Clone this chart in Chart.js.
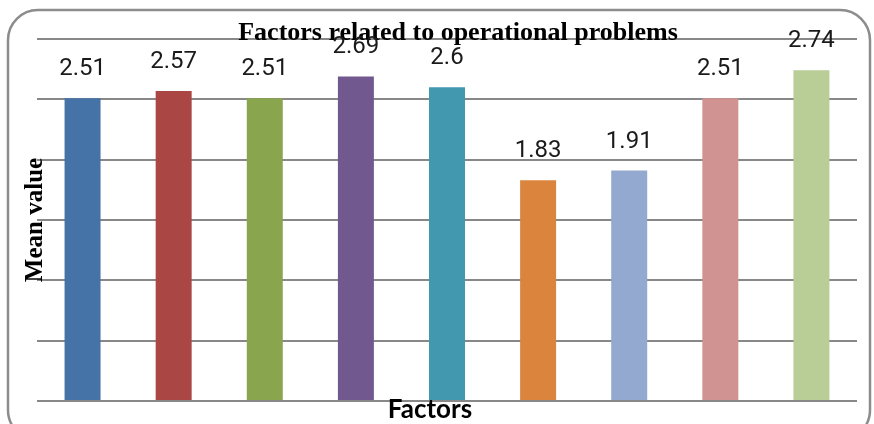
<!DOCTYPE html>
<html>
<head>
<meta charset="utf-8">
<script src="https://cdn.jsdelivr.net/npm/chart.js@4"></script>
<style>
  html, body { margin: 0; padding: 0; background: #fff; }
  #wrap { width: 874px; height: 424px; }
</style>
</head>
<body>
<div id="wrap"><canvas id="factorsChart" width="874" height="424"></canvas></div>
<script>
// factor categories (not labelled on the axis in the original)
var factors = ['F1', 'F2', 'F3', 'F4', 'F5', 'F6', 'F7', 'F8', 'F9'];
var meanValues = [2.51, 2.57, 2.51, 2.69, 2.6, 1.83, 1.91, 2.51, 2.74];
var valueLabels = ['2.51', '2.57', '2.51', '2.69', '2.6', '1.83', '1.91', '2.51', '2.74'];
var barColors = ['#4572A7', '#AA4643', '#89A54E', '#71588F', '#4198AF', '#DB843D', '#93A9CF', '#D19392', '#B9CD96'];

var chartTitle = 'Factors related to operational problems';
var yTitle = 'Mean value';
var xTitle = 'Factors';

// frame, titles and value labels
var decorations = {
  id: 'decorations',
  beforeDraw: function(chart) {
    var c = chart.ctx;
    c.save();
    c.strokeStyle = '#8c8c8c';
    c.lineWidth = 2.5;
    c.beginPath();
    c.roundRect(8, 10, 862, 430, 30);
    c.stroke();
    c.restore();
  },
  afterDraw: function(chart) {
    var c = chart.ctx;
    c.save();
    c.fillStyle = '#000';
    c.textAlign = 'center';
    c.textBaseline = 'alphabetic';
    c.font = 'bold 26px "Liberation Serif"';
    c.fillText(chartTitle, 458, 40);

    c.font = 'bold 26px Lato';
    c.fillText(xTitle, 430, 418);

    c.save();
    c.translate(42, 220);
    c.rotate(-Math.PI / 2);
    c.font = 'bold 25px "Liberation Serif"';
    c.fillText(yTitle, 0, 0);
    c.restore();

    var meta = chart.getDatasetMeta(0);
    c.fillStyle = '#1a1a1a';
    c.font = '24px Roboto';
    c.textBaseline = 'bottom';
    meta.data.forEach(function(bar, i) {
      c.fillText(valueLabels[i], bar.x, bar.y - 17);
    });
    c.restore();
  }
};

var ctx = document.getElementById('factorsChart').getContext('2d');
var factorsChart = new Chart(ctx, {
  type: 'bar',
  data: {
    labels: factors,
    datasets: [{
      data: meanValues,
      backgroundColor: barColors,
      borderWidth: 0,
      barPercentage: 0.79,
      categoryPercentage: 0.5
    }]
  },
  options: {
    responsive: false,
    animation: false,
    layout: { padding: { left: 37, right: 17, top: 39, bottom: 23 } },
    plugins: {
      legend: { display: false },
      tooltip: { enabled: false },
      title: { display: false }
    },
    scales: {
      x: { display: false },
      y: {
        min: 0,
        max: 3,
        ticks: { display: false, stepSize: 0.5 },
        border: { display: false },
        grid: { color: '#888888', lineWidth: 2, drawTicks: false }
      }
    }
  },
  plugins: [decorations]
});
</script>
</body>
</html>
